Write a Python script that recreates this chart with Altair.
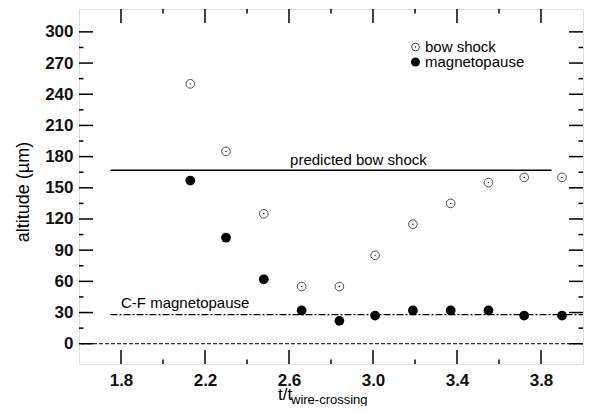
import altair as alt
import pandas as pd

# ---- data ----
t_vals = [2.13, 2.30, 2.48, 2.66, 2.84, 3.01, 3.19, 3.37, 3.55, 3.72, 3.90]
bow_shock = [250, 185, 125, 55, 55, 85, 115, 135, 155, 160, 160]
magnetopause = [157, 102, 62, 32, 22, 27, 32, 32, 32, 27, 27]

x_major = [1.8, 2.2, 2.6, 3.0, 3.4, 3.8]
x_minor = [2.0, 2.4, 2.8, 3.2, 3.6]
y_major = [0, 30, 60, 90, 120, 150, 180, 210, 240, 270, 300]
y_minor = [15, 45, 75, 105, 135, 165, 195, 225, 255, 285]

predicted_bow = 167
cf_magnetopause = 28

W, H = 504, 355
FONT = "Liberation Sans"
XDOM = [1.6, 4.0]
YDOM = [-19.5, 322]

pts = pd.DataFrame({"t": t_vals, "bow": bow_shock, "mag": magnetopause})

xs = alt.Scale(domain=XDOM, nice=False, zero=False)
ys = alt.Scale(domain=YDOM, nice=False, zero=False)

X_axis = alt.Axis(values=x_major, format=".1f", ticks=False, domain=False,
                  grid=False, labelFontSize=17, labelFontWeight="bold",
                  labelFont=FONT, labelColor="#111", labelPadding=8,
                  labelOverlap=False, title=None)
Y_axis = alt.Axis(values=y_major, format="d", ticks=False, domain=False, grid=False,
                  labelFontSize=17, labelFontWeight="bold", labelFont=FONT,
                  labelColor="#111", labelPadding=6, labelOverlap=False,
                  title=None)


def Xq(field):
    return alt.X(field, scale=xs, axis=X_axis)


def Yq(field):
    return alt.Y(field, scale=ys, axis=Y_axis)


# zero reference line
zero_line = alt.Chart(pd.DataFrame({"y": [0]})).mark_rule(
    color="black", strokeWidth=1, strokeDash=[4, 2]
).encode(y=Yq("y:Q"))

# predicted bow shock line
pbs = alt.Chart(pd.DataFrame({"x": [1.75], "x2": [3.85], "y": [predicted_bow]})).mark_rule(
    color="black", strokeWidth=1.5
).encode(x=Xq("x:Q"), x2="x2:Q", y=Yq("y:Q"))

# C-F magnetopause line
cfm = alt.Chart(pd.DataFrame({"x": [1.75], "x2": [4.0], "y": [cf_magnetopause]})).mark_rule(
    color="black", strokeWidth=1.2, strokeDash=[7, 2, 2, 2]
).encode(x=Xq("x:Q"), x2="x2:Q", y=Yq("y:Q"))

# bow shock open circles with center dot
bow_pts = alt.Chart(pts).mark_point(
    shape="circle", filled=False, color="black", size=75, strokeWidth=1
).encode(x=Xq("t:Q"), y=Yq("bow:Q"))
bow_dots = alt.Chart(pts).mark_point(
    shape="circle", filled=True, color="black", size=2, opacity=1
).encode(x=Xq("t:Q"), y=Yq("bow:Q"))

# magnetopause filled circles
mag_pts = alt.Chart(pts).mark_point(
    shape="circle", filled=True, color="black", size=95, opacity=1
).encode(x=Xq("t:Q"), y=Yq("mag:Q"))

# line annotations
ann = pd.DataFrame({
    "x": [2.605, 1.80],
    "y": [172, 34],
    "label": ["predicted bow shock", "C-F magnetopause"],
})
ann_text = alt.Chart(ann).mark_text(
    align="left", baseline="alphabetic", fontSize=15, font=FONT, color="black"
).encode(x=Xq("x:Q"), y=Yq("y:Q"), text="label:N")


# inward ticks drawn as rules
def ticks_x(vals, length):
    d = pd.DataFrame({"v": vals})
    bot = alt.Chart(d).mark_rule(color="black", strokeWidth=1.5).encode(
        x=Xq("v:Q"), y=alt.value(H), y2=alt.value(H - length))
    top = alt.Chart(d).mark_rule(color="black", strokeWidth=1.5).encode(
        x=Xq("v:Q"), y=alt.value(0), y2=alt.value(length))
    return bot + top


def ticks_y(vals, length):
    d = pd.DataFrame({"v": vals})
    left = alt.Chart(d).mark_rule(color="black", strokeWidth=1.5).encode(
        y=Yq("v:Q"), x=alt.value(0), x2=alt.value(length))
    right = alt.Chart(d).mark_rule(color="black", strokeWidth=1.5).encode(
        y=Yq("v:Q"), x=alt.value(W), x2=alt.value(W - length))
    return left + right


tick_layers = ticks_x(x_major, 14) + ticks_x(x_minor, 4.5) + ticks_y(y_major, 14) + ticks_y(y_minor, 4.5)

# legend
leg_sym_open = alt.Chart(pd.DataFrame({"a": [0]})).mark_point(
    shape="circle", filled=False, color="black", size=60, strokeWidth=1
).encode(x=alt.value(336.5), y=alt.value(38))
leg_sym_dot = alt.Chart(pd.DataFrame({"a": [0]})).mark_point(
    shape="circle", filled=True, color="black", size=2, opacity=1
).encode(x=alt.value(336.5), y=alt.value(38))
leg_sym_fill = alt.Chart(pd.DataFrame({"a": [0]})).mark_point(
    shape="circle", filled=True, color="black", size=80, opacity=1
).encode(x=alt.value(336.5), y=alt.value(53))
leg_txt1 = alt.Chart(pd.DataFrame({"label": ["bow shock"]})).mark_text(
    align="left", baseline="alphabetic", fontSize=15, font=FONT, color="black"
).encode(x=alt.value(346), y=alt.value(43), text="label:N")
leg_txt2 = alt.Chart(pd.DataFrame({"label": ["magnetopause"]})).mark_text(
    align="left", baseline="alphabetic", fontSize=15, font=FONT, color="black"
).encode(x=alt.value(346), y=alt.value(58), text="label:N")

# axis titles
ytitle = alt.Chart(pd.DataFrame({"label": ["altitude (\u00b5m)"]})).mark_text(
    angle=270, align="center", baseline="middle", fontSize=18, font=FONT, color="black"
).encode(x=alt.value(-55), y=alt.value(183), text="label:N")
xtitle1 = alt.Chart(pd.DataFrame({"label": ["t/t"]})).mark_text(
    align="left", baseline="alphabetic", fontSize=17, font=FONT, color="black"
).encode(x=alt.value(199), y=alt.value(391), text="label:N")
xtitle2 = alt.Chart(pd.DataFrame({"label": ["wire-crossing"]})).mark_text(
    align="left", baseline="alphabetic", fontSize=13, font=FONT, color="black"
).encode(x=alt.value(212), y=alt.value(394.5), text="label:N")

chart = alt.layer(
    zero_line, pbs, cfm, bow_pts, bow_dots, mag_pts, ann_text, tick_layers,
    leg_sym_open, leg_sym_dot, leg_sym_fill, leg_txt1, leg_txt2,
    ytitle, xtitle1, xtitle2,
).properties(
    width=W, height=H,
    autosize=alt.AutoSizeParams(type="none"),
    padding={"left": 71, "top": 1, "right": 1, "bottom": 42},
).configure_view(
    stroke="black", strokeWidth=2
).configure(background="white")

chart.save("out.html", embed_options={"renderer": "svg", "actions": False})
